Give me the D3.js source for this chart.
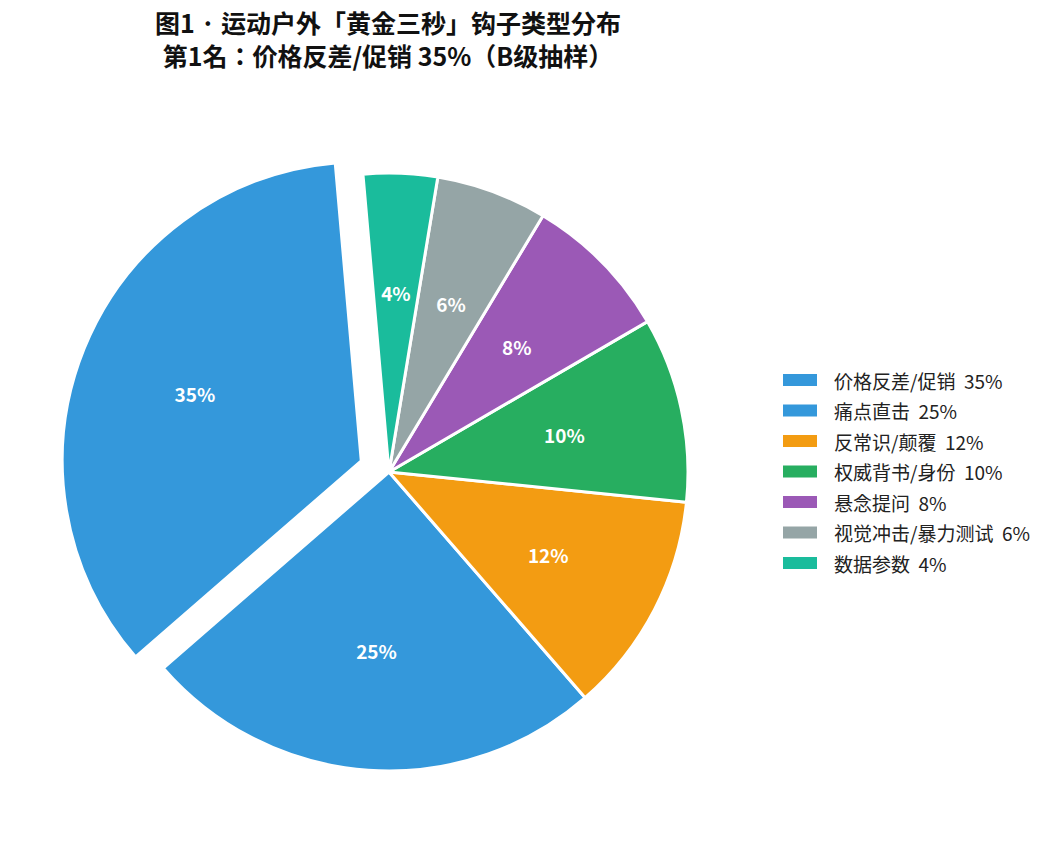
<!DOCTYPE html>
<html><head><meta charset="utf-8">
<script src="https://cdn.jsdelivr.net/npm/d3@7"></script>
<style>body{margin:0;background:#fff;}svg{display:block;}</style>
</head><body>
<svg id="c" width="1050" height="861"></svg>
<script>
const categories = ["价格反差/促销","痛点直击","反常识/颠覆","权威背书/身份","悬念提问","视觉冲击/暴力测试","数据参数"];
const values = [35,25,12,10,8,6,4];
const colors = ["#3498db","#3498db","#f39c12","#27ae60","#9b59b6","#95a5a6","#1abc9c"];
const explode = [0.1,0,0,0,0,0,0];
const titleLines = ["图1 · 运动户外「黄金三秒」钩子类型分布","第1名：价格反差/促销 35%（B级抽样）"];

const svg = d3.select("#c");
const font = "'Noto Sans CJK JP','Noto Sans CJK SC','Noto Sans',sans-serif";
const cx = 389, cy = 472, r = 299;
const start = -5 * Math.PI/180;

const pie = d3.pie().sort(null).value(d=>d).startAngle(start).endAngle(start - 2*Math.PI);
const arcs = pie(values);
const arc = d3.arc().innerRadius(0).outerRadius(r);
const g = svg.append("g").attr("transform",`translate(${cx},${cy})`);

const sl = g.selectAll("g.s").data(arcs).join("g").attr("class","s")
  .attr("transform",(d,i)=>{
    const m=(d.startAngle+d.endAngle)/2, o=explode[i]*r;
    return `translate(${o*Math.sin(m)},${-o*Math.cos(m)})`;
  });
sl.append("path").attr("d",arc).attr("fill",(d,i)=>colors[i])
  .attr("stroke","#fff").attr("stroke-width",3).attr("stroke-linejoin","round");
sl.append("text")
  .attr("x",d=>{const m=(d.startAngle+d.endAngle)/2;return 0.6*r*Math.sin(m);})
  .attr("y",d=>{const m=(d.startAngle+d.endAngle)/2;return -0.6*r*Math.cos(m);})
  .attr("text-anchor","middle").attr("dominant-baseline","central")
  .attr("fill","#fff").attr("font-weight","bold").attr("font-size",19)
  .attr("font-family",font).text(d=>d.data+"%");

svg.selectAll("text.t").data(titleLines).join("text").attr("class","t")
  .attr("x",388).attr("y",(d,i)=>22+i*33).attr("text-anchor","middle")
  .attr("dominant-baseline","central").attr("font-weight","bold")
  .attr("font-size",25).attr("font-family",font).attr("fill","#111").text(d=>d);

const lg = svg.append("g");
const rows = lg.selectAll("g").data(categories).join("g")
  .attr("transform",(d,i)=>`translate(783,${380+i*30.5})`);
rows.append("rect").attr("x",0).attr("y",-6).attr("width",34).attr("height",12)
  .attr("fill",(d,i)=>colors[i]);
rows.append("text").attr("x",51).attr("y",0).attr("dominant-baseline","central")
  .attr("font-size",19).attr("font-family",font).attr("fill","#222")
  .text((d,i)=>`${d}  ${values[i]}%`).attr("xml:space","preserve").style("white-space","pre");
</script>
</body></html>
